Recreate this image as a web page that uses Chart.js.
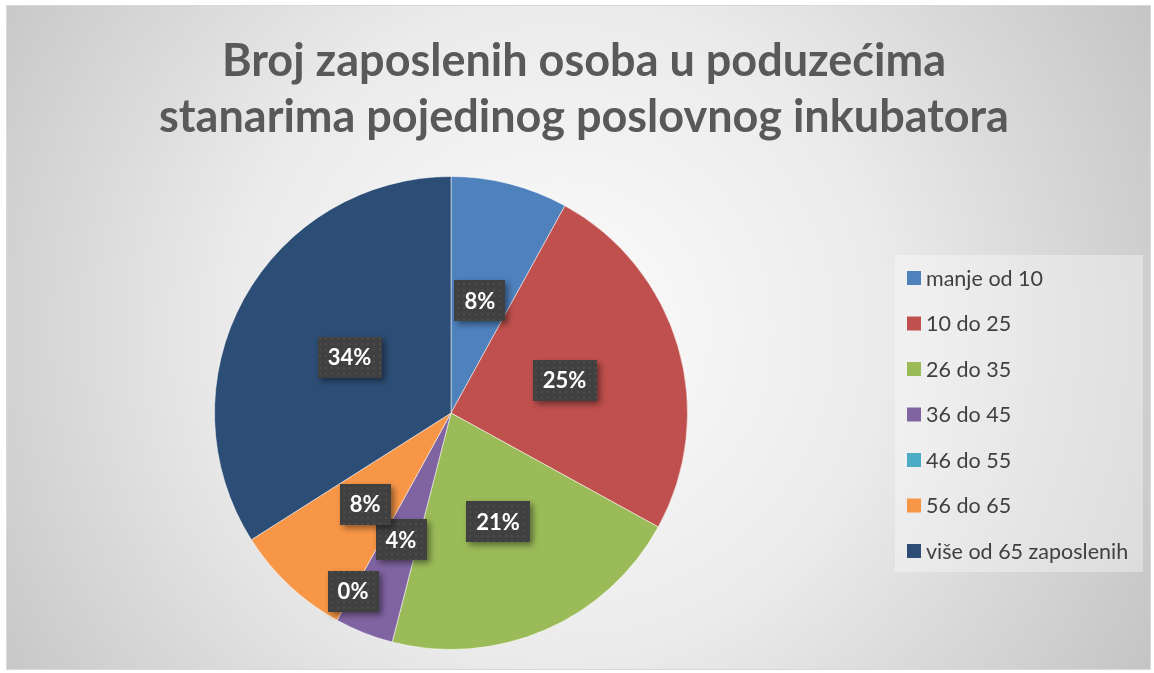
<!DOCTYPE html>
<html>
<head>
  <meta charset="utf-8">
  <title>Broj zaposlenih osoba</title>
  <script src="https://cdn.jsdelivr.net/npm/chart.js"></script>
  <style>
    html, body { margin: 0; padding: 0; background: #ffffff; }
    #wrap { width: 1154px; height: 673px; }
  </style>
</head>
<body>
  <div id="wrap"><canvas id="pieChart"></canvas></div>

  <script>
    // data (percent of companies)
    const titleLines = ['Broj zaposlenih osoba u poduzećima', 'stanarima pojedinog poslovnog inkubatora'];
    const categories = ['manje od 10', '10 do 25', '26 do 35', '36 do 45', '46 do 55', '56 do 65', 'više od 65 zaposlenih'];
    const shares = [8, 25, 21, 4, 0, 8, 34];
    const sliceColors = ['#4f81bd', '#c0504d', '#9bbb59', '#8064a2', '#4bacc6', '#f79646', '#2c4d75'];

    // where each label sits, as a fraction of the radius along the slice middle
    const labelRadius = [0.49, 0.5, 0.5, 0.575, 0.86, 0.53, 0.49];

    function dotPattern() {
      const c = document.createElement('canvas');
      c.width = 6; c.height = 6;
      const g = c.getContext('2d');
      g.fillStyle = '#404040';
      g.fillRect(0, 0, 6, 6);
      g.fillStyle = '#4c4c4c';
      g.fillRect(1, 1, 2, 2);
      return g.createPattern(c, 'repeat');
    }

    const frame = {
      id: 'frame',
      beforeDraw(chart) {
        const ctx = chart.ctx;
        ctx.save();
        ctx.fillStyle = '#ffffff';
        ctx.fillRect(0, 0, chart.width, chart.height);
        const grd = ctx.createRadialGradient(560, 330, 20, 560, 330, 700);
        grd.addColorStop(0, '#fbfbfb');
        grd.addColorStop(0.45, '#ebebeb');
        grd.addColorStop(1, '#c2c2c2');
        ctx.fillStyle = grd;
        ctx.fillRect(7, 6, 1143, 663);
        ctx.strokeStyle = '#d9d9d9';
        ctx.lineWidth = 1;
        ctx.strokeRect(6.5, 5.5, 1144, 664);

        // title
        ctx.fillStyle = '#595959';
        ctx.font = 'bold 45px Lato';
        ctx.textAlign = 'center';
        ctx.textBaseline = 'alphabetic';
        ctx.fillText(titleLines[0], 584, 76);
        ctx.fillText(titleLines[1], 584, 132);
        ctx.restore();
      },
      afterDraw(chart) {
        const ctx = chart.ctx;
        // legend
        ctx.save();
        ctx.fillStyle = 'rgba(255,255,255,0.35)';
        ctx.fillRect(895, 255, 248, 317);
        ctx.font = '21.5px Lato';
        ctx.textBaseline = 'middle';
        ctx.textAlign = 'left';
        categories.forEach((name, i) => {
          const y = 278 + i * 45.5;
          ctx.fillStyle = sliceColors[i];
          ctx.fillRect(907, y - 7, 14, 14);
          ctx.fillStyle = '#404040';
          ctx.fillText(name, 926, y + 1);
        });
        ctx.restore();

        // data labels
        const pat = dotPattern();
        const meta = chart.getDatasetMeta(0);
        ctx.save();
        ctx.font = 'bold 22px Lato';
        ctx.textAlign = 'center';
        ctx.textBaseline = 'middle';
        meta.data.forEach((arc, i) => {
          const p = arc.getProps(['x', 'y', 'startAngle', 'endAngle', 'outerRadius'], true);
          const a = (p.startAngle + p.endAngle) / 2;
          const r = p.outerRadius * labelRadius[i];
          const cx = p.x + Math.cos(a) * r;
          const cy = p.y + Math.sin(a) * r;
          const text = shares[i] + '%';
          const w = ctx.measureText(text).width + 20;
          const h = 41;
          ctx.save();
          ctx.shadowColor = 'rgba(0,0,0,0.45)';
          ctx.shadowBlur = 6;
          ctx.shadowOffsetX = 3;
          ctx.shadowOffsetY = 3;
          ctx.fillStyle = pat;
          ctx.fillRect(Math.round(cx - w / 2), Math.round(cy - h / 2), Math.round(w), h);
          ctx.restore();
          ctx.fillStyle = '#ffffff';
          ctx.fillText(text, cx, cy + 1);
        });
        ctx.restore();
      }
    };

    const ctx = document.getElementById('pieChart').getContext('2d');
    new Chart(ctx, {
      type: 'pie',
      data: {
        labels: categories,
        datasets: [{
          data: shares,
          backgroundColor: sliceColors,
          borderColor: 'rgba(255,255,255,0.5)',
          borderWidth: 1
        }]
      },
      options: {
        responsive: true,
        maintainAspectRatio: false,
        animation: false,
        layout: { padding: { top: 176, bottom: 23, left: 214, right: 466 } },
        plugins: {
          legend: { display: false },
          title: { display: false },
          tooltip: { enabled: false }
        }
      },
      plugins: [frame]
    });
  </script>
</body>
</html>
